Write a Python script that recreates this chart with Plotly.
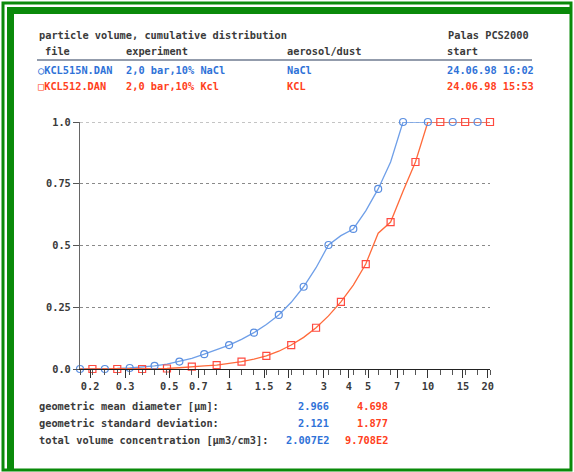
import math
import plotly.graph_objects as go

# ---- data ----
# channel diameters (16 channels per decade) in µm
diameters = [10 ** (k / 16) for k in range(-12, 22)]
# cumulative volume distribution, NaCl (KCL515N.DAN)
nacl = [0, 0, 0, 0.002, 0.004, 0.008, 0.013, 0.02, 0.03, 0.043, 0.06, 0.077,
        0.097, 0.12, 0.147, 0.18, 0.219, 0.27, 0.333, 0.41, 0.502, 0.54, 0.567,
        0.64, 0.729, 0.838, 1.0, 1.0, 1.0, 1.0, 1.0, 1.0, 1.0, 1.0]
# cumulative volume distribution, KCl (KCL512.DAN)
kcl = [0, 0, 0, 0, 0, 0, 0.001, 0.002, 0.005, 0.01, 0.013, 0.016,
       0.022, 0.03, 0.04, 0.053, 0.072, 0.097, 0.128, 0.167, 0.215, 0.272, 0.34,
       0.425, 0.55, 0.595, 0.72, 0.838, 1.0, 1.0, 1.0, 1.0, 1.0, 1.0]

x_tickvals = [0.2, 0.3, 0.5, 0.7, 1, 1.5, 2, 3, 4, 5, 7, 10, 15, 20]
x_ticktext = ["0.2", "0.3", "0.5", "0.7", "1", "1.5", "2", "3", "4", "5", "7", "10", "15", "20"]
y_tickvals = [0, 0.25, 0.5, 0.75, 1.0]
y_ticktext = ["0.0", "0.25", "0.5", "0.75", "1.0"]

header = ["file", "experiment", "aerosol/dust", "start"]
row_nacl = ["○KCL515N.DAN", "2,0 bar,10% NaCl", "NaCl", "24.06.98 16:02"]
row_kcl = ["□KCL512.DAN", "2,0 bar,10% Kcl", "KCL", "24.06.98 15:53"]

stat_labels = ["geometric mean diameter [µm]:", "geometric standard deviation:",
               "total volume concentration [µm3/cm3]:"]
stat_nacl = ["2.966", "2.121", "2.007E2"]
stat_kcl = ["4.698", "1.877", "9.708E2"]

# ---- style ----
BLUE_LINE = "#6f9fe8"
BLUE_MARK = "#5a8ee0"
BLUE_TXT = "#2f72d8"
RED_LINE = "#ff6a3a"
RED_MARK = "#ff4a40"
RED_TXT = "#ff4020"
GREEN = "#0a8a0a"
TXT = "#3a3a3a"
FONT = "DejaVu Sans Mono"
FS = 10.3

W, H = 574, 472
PL, PR, PT, PB = 80, 490, 122, 369


def px(x):
    return (x - PL) / (PR - PL)


def py(y):
    return (PB - y) / (PB - PT)


fig = go.Figure()
fig.add_trace(go.Scatter(x=diameters, y=nacl, mode="lines",
                         line=dict(color=BLUE_LINE, width=1.3), cliponaxis=False,
                         hoverinfo="skip"))
fig.add_trace(go.Scatter(x=diameters, y=kcl, mode="lines",
                         line=dict(color=RED_LINE, width=1.3), cliponaxis=False,
                         hoverinfo="skip"))
fig.add_trace(go.Scatter(x=diameters[::2], y=nacl[::2], mode="markers",
                         marker=dict(symbol="circle-open", size=7, color=BLUE_MARK,
                                     line=dict(width=1.2)),
                         cliponaxis=False))
fig.add_trace(go.Scatter(x=diameters[1::2], y=kcl[1::2], mode="markers",
                         marker=dict(symbol="square-open", size=7, color=RED_MARK,
                                     line=dict(width=1.2)),
                         cliponaxis=False))

ann = []


def add_text(x, y, text, color=TXT, anchor="left", size=FS):
    ann.append(dict(x=px(x), y=py(y), xref="paper", yref="paper", text="<b>" + text + "</b>",
                    showarrow=False, xanchor=anchor, yanchor="middle",
                    font=dict(family=FONT, size=size, color=color)))


add_text(37, 35, "particle volume, cumulative distribution")
add_text(531, 35, "Palas PCS2000", anchor="right")
col_x = [43, 124, 285, 445]
for cx, t in zip(col_x, header):
    add_text(cx, 51, t)
col_x2 = [36, 124, 285, 445]
for cx, t in zip(col_x2, row_nacl):
    add_text(cx, 70, t, color=BLUE_TXT)
for cx, t in zip(col_x2, row_kcl):
    add_text(cx, 86, t, color=RED_TXT)

for i, lab in enumerate(stat_labels):
    yy = 406 + 17 * i
    add_text(37, yy, lab)
    add_text(331, yy, stat_nacl[i], color=BLUE_TXT, anchor="right")
    add_text(390, yy, stat_kcl[i], color=RED_TXT, anchor="right")

shapes = [
    # header separator line
    dict(type="line", xref="paper", yref="paper", x0=px(37), x1=px(532), y0=py(60), y1=py(60),
         line=dict(color="#283a5a", width=1.2)),
    # outer thin green frame
    dict(type="rect", xref="paper", yref="paper", x0=px(3), x1=px(571), y0=py(3), y1=py(470),
         line=dict(color=GREEN, width=3)),
    # thick inner bands (top & left)
    dict(type="rect", xref="paper", yref="paper", x0=px(7), x1=px(571), y0=py(7), y1=py(14),
         fillcolor=GREEN, line=dict(width=0)),
    dict(type="rect", xref="paper", yref="paper", x0=px(7), x1=px(14), y0=py(7), y1=py(470),
         fillcolor=GREEN, line=dict(width=0)),
    # top gridline at 1.0
    dict(type="line", xref="paper", yref="y", x0=0, x1=1, y0=1.0, y1=1.0, layer="below",
         line=dict(color="#8a8a8a", width=1, dash="dot")),
]

fig.update_layout(
    width=W, height=H,
    margin=dict(l=PL, r=W - PR, t=PT, b=H - PB),
    paper_bgcolor="white", plot_bgcolor="white",
    showlegend=False,
    annotations=ann, shapes=shapes,
    xaxis=dict(type="log", range=[math.log10(diameters[0]), math.log10(diameters[-1])],
               tickvals=x_tickvals, ticktext=["<b>" + t + "</b>" for t in x_ticktext],
               ticks="outside", ticklen=8, tickcolor="#333", tickwidth=1,
               minor=dict(tickvals=diameters, ticks="outside", ticklen=5, tickcolor="#555",
                          showgrid=False),
               showline=True, linecolor="#222", linewidth=1.2, showgrid=False, zeroline=False,
               tickfont=dict(family=FONT, size=FS, color=TXT)),
    yaxis=dict(range=[0, 1.0], tickvals=y_tickvals,
               ticktext=["<b>" + t + "</b>" for t in y_ticktext],
               ticks="outside", ticklen=6, tickcolor="#555",
               showline=True, linecolor="#666", linewidth=1.2,
               showgrid=True, gridcolor="#8a8a8a", griddash="dot", gridwidth=1,
               zeroline=False, tickfont=dict(family=FONT, size=FS, color=TXT)),
)

fig.write_html("out.html", config={"displayModeBar": False},
               post_script="document.body.style.margin='0';")
